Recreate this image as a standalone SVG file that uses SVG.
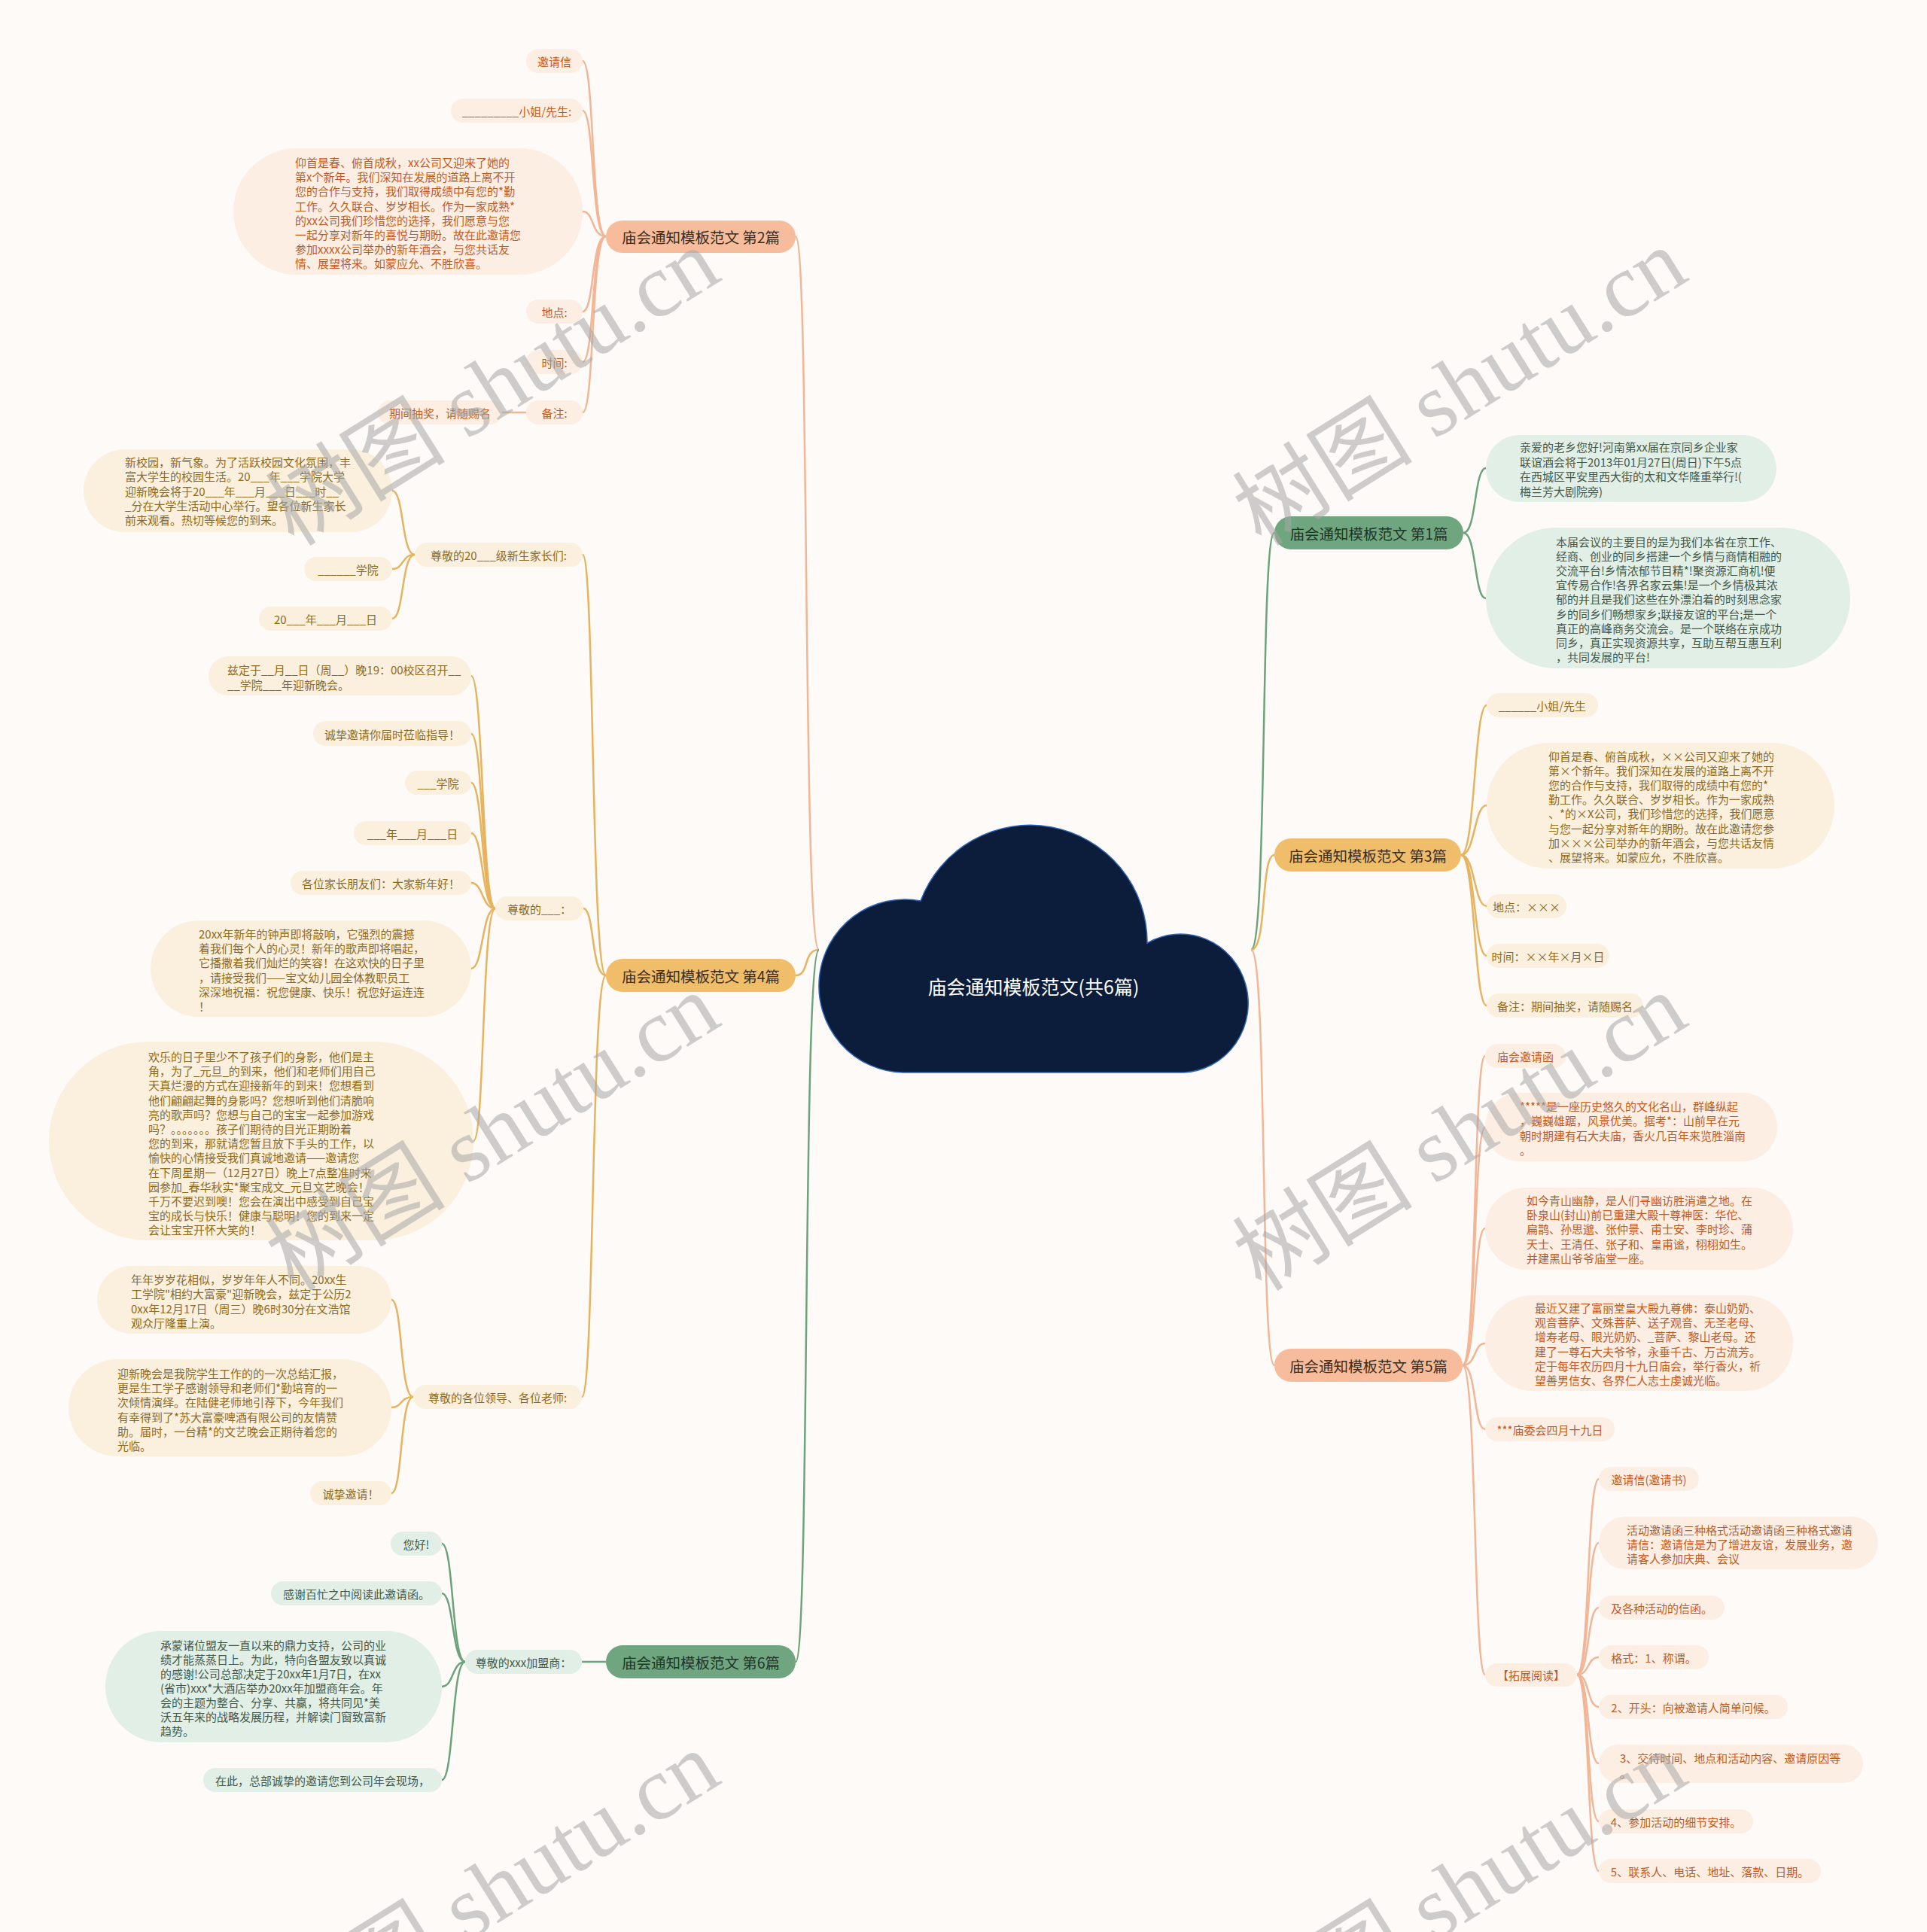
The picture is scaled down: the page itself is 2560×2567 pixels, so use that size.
<svg xmlns="http://www.w3.org/2000/svg" width="2560" height="2567" viewBox="0 0 2560 2567">
<style>
text{font-family:"Noto Sans CJK SC","Noto Sans",sans-serif;}
.t{font-size:15px;dominant-baseline:central}
.c{text-anchor:middle}
.m{font-size:19.5px;fill:#3b2c20;text-anchor:middle;dominant-baseline:central}
.mg{fill:#1f3527}
.ls{fill:#FDEEE3}
.lg{fill:#FBF0DD}
.lgr{fill:#E1EFE6}
.ts{fill:#BE5B25}
.tg{fill:#8C6A24}
.tgr{fill:#44584A}
.ns{fill:#F7BC9C}
.ng{fill:#F0BE6A}
.ngr{fill:#6FA67F}
.cs{stroke:#F2B595;fill:none;stroke-width:2.5}
.cg{stroke:#E6B35E;fill:none;stroke-width:2.5}
.cgr{stroke:#6CA37B;fill:none;stroke-width:2.5}
.wm{font-family:"Liberation Serif","Noto Sans CJK SC",serif;font-size:120px;fill:#a8a8a8;opacity:0.55;text-anchor:middle}
</style>
<rect width="2560" height="2567" fill="#FDFAF7"/>

<g id="connectors">
<path class="cs" d="M1088,1262 C1066,1262 1076,314 1057,314"/>
<path class="cg" d="M1088,1262 C1066,1262 1076,1296 1057,1296"/>
<path class="cgr" d="M1088,1262 C1066,1262 1076,2208 1057,2208"/>
<path class="cgr" d="M1662,1262 C1684,1262 1674,708 1693,708"/>
<path class="cg" d="M1662,1262 C1684,1262 1674,1136 1693,1136"/>
<path class="cs" d="M1662,1262 C1684,1262 1674,1814 1693,1814"/>
<path class="cs" d="M805,314 C785,314 790,81 774,81"/>
<path class="cs" d="M805,314 C785,314 790,147 774,147"/>
<path class="cs" d="M805,314 C785,314 790,281 774,281"/>
<path class="cs" d="M805,314 C785,314 790,414 774,414"/>
<path class="cs" d="M805,314 C785,314 790,481 774,481"/>
<path class="cs" d="M805,314 C785,314 790,548 774,548"/>
<path class="cs" d="M699,548 L667,548"/>
<path class="cg" d="M805,1296 C785,1296 790,737 774,737"/>
<path class="cg" d="M805,1296 C785,1296 790,1207 775,1207"/>
<path class="cg" d="M805,1296 C785,1296 790,1856 773,1856"/>
<path class="cg" d="M551,737 C533,737 537,652 521,652"/>
<path class="cg" d="M551,737 C533,737 537,756 521,756"/>
<path class="cg" d="M551,737 C533,737 537,822 521,822"/>
<path class="cg" d="M658,1207 C640,1207 642,898 626,898"/>
<path class="cg" d="M658,1207 C640,1207 642,975 626,975"/>
<path class="cg" d="M658,1207 C640,1207 642,1040 626,1040"/>
<path class="cg" d="M658,1207 C640,1207 642,1107 626,1107"/>
<path class="cg" d="M658,1207 C640,1207 642,1173 626,1173"/>
<path class="cg" d="M658,1207 C640,1207 642,1287 626,1287"/>
<path class="cg" d="M658,1207 C640,1207 644,1516 629,1516"/>
<path class="cg" d="M549,1856 C531,1856 535,1727 520,1727"/>
<path class="cg" d="M549,1856 C531,1856 535,1870 520,1870"/>
<path class="cg" d="M549,1856 C531,1856 535,1984 520,1984"/>
<path class="cgr" d="M805,2208 L773,2208"/>
<path class="cgr" d="M618,2208 C600,2208 603,2051 587,2051"/>
<path class="cgr" d="M618,2208 C600,2208 603,2117 587,2117"/>
<path class="cgr" d="M618,2208 C600,2208 603,2241 587,2241"/>
<path class="cgr" d="M618,2208 C600,2208 603,2365 587,2365"/>
<path class="cgr" d="M1944,708 C1962,708 1958,622 1974,622"/>
<path class="cgr" d="M1944,708 C1962,708 1958,795 1974,795"/>
<path class="cg" d="M1941,1136 C1960,1136 1958,937 1975,937"/>
<path class="cg" d="M1941,1136 C1960,1136 1958,1070 1975,1070"/>
<path class="cg" d="M1941,1136 C1960,1136 1958,1204 1975,1204"/>
<path class="cg" d="M1941,1136 C1960,1136 1958,1270 1975,1270"/>
<path class="cg" d="M1941,1136 C1960,1136 1958,1336 1975,1336"/>
<path class="cs" d="M1943,1814 C1962,1814 1957,1403 1973,1403"/>
<path class="cs" d="M1943,1814 C1962,1814 1957,1498 1973,1498"/>
<path class="cs" d="M1943,1814 C1962,1814 1957,1632 1973,1632"/>
<path class="cs" d="M1943,1814 C1962,1814 1957,1785 1973,1785"/>
<path class="cs" d="M1943,1814 C1962,1814 1957,1899 1973,1899"/>
<path class="cs" d="M1943,1814 C1962,1814 1957,2225 1973,2225"/>
<path class="cs" d="M2095,2225 C2112,2225 2108,1965 2124,1965"/>
<path class="cs" d="M2095,2225 C2112,2225 2108,2050 2124,2050"/>
<path class="cs" d="M2095,2225 C2112,2225 2108,2136 2124,2136"/>
<path class="cs" d="M2095,2225 C2112,2225 2108,2202 2124,2202"/>
<path class="cs" d="M2095,2225 C2112,2225 2108,2268 2124,2268"/>
<path class="cs" d="M2095,2225 C2112,2225 2108,2343 2124,2343"/>
<path class="cs" d="M2095,2225 C2112,2225 2108,2420 2124,2420"/>
<path class="cs" d="M2095,2225 C2112,2225 2108,2486 2124,2486"/>
</g>

<g id="root">
<path d="M1200,1425 A114,115 0 1 1 1223,1197 A155.5,155.5 0 0 1 1524,1253 A90,92 0 1 1 1573,1425 Z" fill="#0B1D3A" stroke="#2F63B5" stroke-width="1.5"/>
<text x="1373" y="1310" style="font-size:25px;fill:#ffffff;text-anchor:middle;dominant-baseline:central">庙会通知模板范文(共6篇)</text>
</g>

<g id="n2">
<rect class="ns" x="805" y="293" width="252" height="43" rx="21.5"/>
<text class="m" x="931" y="314.5">庙会通知模板范文 第2篇</text>
</g>
<g id="n2-1"><rect class="ls" x="699" y="65" width="75" height="32" rx="16"/><text class="t ts c" x="736.5" y="81">邀请信</text></g>
<g id="n2-2"><rect class="ls" x="599" y="131" width="175" height="32" rx="16"/><text class="t ts c" x="686.5" y="147">_________小姐/先生:</text></g>
<g id="n2-3"><rect class="ls" x="310" y="197" width="464" height="168" rx="84"/>
<text class="t ts"><tspan x="392" y="215">仰首是春、俯首成秋，xx公司又迎来了她的</tspan><tspan x="392" y="234.2">第x个新年。我们深知在发展的道路上离不开</tspan><tspan x="392" y="253.4">您的合作与支持，我们取得成绩中有您的*勤</tspan><tspan x="392" y="272.6">工作。久久联合、岁岁相长。作为一家成熟*</tspan><tspan x="392" y="291.8">的xx公司我们珍惜您的选择，我们愿意与您</tspan><tspan x="392" y="311">一起分享对新年的喜悦与期盼。故在此邀请您</tspan><tspan x="392" y="330.2">参加xxxx公司举办的新年酒会，与您共话友</tspan><tspan x="392" y="349.4">情、展望将来。如蒙应允、不胜欣喜。</tspan></text></g>
<g id="n2-4"><rect class="ls" x="699" y="398" width="75" height="32" rx="16"/><text class="t ts c" x="736.5" y="414">地点:</text></g>
<g id="n2-5"><rect class="ls" x="699" y="465" width="75" height="32" rx="16"/><text class="t ts c" x="736.5" y="481">时间:</text></g>
<g id="n2-6"><rect class="ls" x="699" y="532" width="75" height="32" rx="16"/><text class="t ts c" x="736.5" y="548">备注:</text></g>
<g id="n2-6-1"><rect class="ls" x="502" y="532" width="165" height="32" rx="16"/><text class="t ts c" x="584.5" y="548">期间抽奖，请随赐名</text></g>

<g id="n4">
<rect class="ng" x="805" y="1274" width="252" height="44" rx="22"/>
<text class="m" x="931" y="1296">庙会通知模板范文 第4篇</text>
</g>
<g id="n4-1"><rect class="lg" x="551" y="721" width="223" height="32" rx="16"/><text class="t tg c" x="662.5" y="737">尊敬的20___级新生家长们:</text></g>
<g id="n4-1-1"><rect class="lg" x="111" y="597" width="410" height="110" rx="55"/>
<text class="t tg"><tspan x="166" y="613">新校园，新气象。为了活跃校园文化氛围，丰</tspan><tspan x="166" y="632.3">富大学生的校园生活。20___年___学院大学</tspan><tspan x="166" y="651.6">迎新晚会将于20___年___月___日___时__</tspan><tspan x="166" y="670.9">_分在大学生活动中心举行。望各位新生家长</tspan><tspan x="166" y="690.2">前来观看。热切等候您的到来。</tspan></text></g>
<g id="n4-1-2"><rect class="lg" x="404" y="740" width="117" height="32" rx="16"/><text class="t tg c" x="462.5" y="756">______学院</text></g>
<g id="n4-1-3"><rect class="lg" x="344" y="806" width="177" height="32" rx="16"/><text class="t tg c" x="432.5" y="822">20___年___月___日</text></g>

<g id="n4-2"><rect class="lg" x="658" y="1191" width="117" height="32" rx="16"/><text class="t tg c" x="716.5" y="1207">尊敬的___：</text></g>
<g id="n4-2-1"><rect class="lg" x="277" y="872" width="349" height="52" rx="26"/>
<text class="t tg"><tspan x="302" y="889">兹定于__月__日（周__）晚19：00校区召开__</tspan><tspan x="302" y="908.5">__学院___年迎新晚会。</tspan></text></g>
<g id="n4-2-2"><rect class="lg" x="416" y="958" width="210" height="33" rx="16.5"/><text class="t tg c" x="521" y="975">诚挚邀请你届时莅临指导！</text></g>
<g id="n4-2-3"><rect class="lg" x="538" y="1024" width="88" height="32" rx="16"/><text class="t tg c" x="582" y="1040">___学院</text></g>
<g id="n4-2-4"><rect class="lg" x="470" y="1091" width="156" height="32" rx="16"/><text class="t tg c" x="548" y="1107">___年___月___日</text></g>
<g id="n4-2-5"><rect class="lg" x="386" y="1157" width="240" height="32" rx="16"/><text class="t tg c" x="506" y="1173">各位家长朋友们：大家新年好！</text></g>
<g id="n4-2-6"><rect class="lg" x="200" y="1223" width="426" height="128" rx="64"/>
<text class="t tg"><tspan x="264" y="1240">20xx年新年的钟声即将敲响，它强烈的震撼</tspan><tspan x="264" y="1259.2">着我们每个人的心灵！新年的歌声即将唱起，</tspan><tspan x="264" y="1278.4">它播撒着我们灿烂的笑容！在这欢快的日子里</tspan><tspan x="264" y="1297.6">，请接受我们——宝文幼儿园全体教职员工</tspan><tspan x="264" y="1316.8">深深地祝福：祝您健康、快乐！祝您好运连连</tspan><tspan x="264" y="1336">！</tspan></text></g>
<g id="n4-2-7"><rect class="lg" x="65" y="1384" width="564" height="264" rx="132"/>
<text class="t tg"><tspan x="197" y="1403">欢乐的日子里少不了孩子们的身影，他们是主</tspan><tspan x="197" y="1422.2">角，为了_元旦_的到来，他们和老师们用自己</tspan><tspan x="197" y="1441.4">天真烂漫的方式在迎接新年的到来！您想看到</tspan><tspan x="197" y="1460.6">他们翩翩起舞的身影吗？您想听到他们清脆响</tspan><tspan x="197" y="1479.8">亮的歌声吗？您想与自己的宝宝一起参加游戏</tspan><tspan x="197" y="1499">吗？。。。。。。。孩子们期待的目光正期盼着</tspan><tspan x="197" y="1518.2">您的到来，那就请您暂且放下手头的工作，以</tspan><tspan x="197" y="1537.4">愉快的心情接受我们真诚地邀请——邀请您</tspan><tspan x="197" y="1556.6">在下周星期一（12月27日）晚上7点整准时来</tspan><tspan x="197" y="1575.8">园参加_春华秋实*聚宝成文_元旦文艺晚会！</tspan><tspan x="197" y="1595">千万不要迟到噢！您会在演出中感受到自己宝</tspan><tspan x="197" y="1614.2">宝的成长与快乐！健康与聪明！您的到来一定</tspan><tspan x="197" y="1633.4">会让宝宝开怀大笑的！</tspan></text></g>

<g id="n4-3"><rect class="lg" x="549" y="1840" width="224" height="32" rx="16"/><text class="t tg c" x="661" y="1856">尊敬的各位领导、各位老师:</text></g>
<g id="n4-3-1"><rect class="lg" x="129" y="1682" width="391" height="90" rx="45"/>
<text class="t tg"><tspan x="174" y="1699">年年岁岁花相似，岁岁年年人不同。20xx生</tspan><tspan x="174" y="1718.3">工学院"相约大富豪"迎新晚会，兹定于公历2</tspan><tspan x="174" y="1737.6">0xx年12月17日（周三）晚6时30分在文浩馆</tspan><tspan x="174" y="1756.9">观众厅隆重上演。</tspan></text></g>
<g id="n4-3-2"><rect class="lg" x="91" y="1806" width="429" height="129" rx="64.5"/>
<text class="t tg"><tspan x="156" y="1824">迎新晚会是我院学生工作的的一次总结汇报，</tspan><tspan x="156" y="1843.2">更是生工学子感谢领导和老师们*勤培育的一</tspan><tspan x="156" y="1862.4">次倾情演绎。在陆健老师地引荐下，今年我们</tspan><tspan x="156" y="1881.6">有幸得到了*苏大富豪啤酒有限公司的友情赞</tspan><tspan x="156" y="1900.8">助。届时，一台精*的文艺晚会正期待着您的</tspan><tspan x="156" y="1920">光临。</tspan></text></g>
<g id="n4-3-3"><rect class="lg" x="412" y="1968" width="108" height="32" rx="16"/><text class="t tg c" x="466" y="1984">诚挚邀请！</text></g>

<g id="n6">
<rect class="ngr" x="805" y="2186" width="252" height="44" rx="22"/>
<text class="m mg" x="931" y="2208">庙会通知模板范文 第6篇</text>
</g>
<g id="n6-1"><rect class="lgr" x="618" y="2192" width="155" height="32" rx="16"/><text class="t tgr c" x="695.5" y="2208">尊敬的xxx加盟商：</text></g>
<g id="n6-1-1"><rect class="lgr" x="519" y="2035" width="68" height="32" rx="16"/><text class="t tgr c" x="553" y="2051">您好!</text></g>
<g id="n6-1-2"><rect class="lgr" x="360" y="2101" width="227" height="32" rx="16"/><text class="t tgr c" x="473.5" y="2117">感谢百忙之中阅读此邀请函。</text></g>
<g id="n6-1-3"><rect class="lgr" x="140" y="2167" width="447" height="148" rx="74"/>
<text class="t tgr"><tspan x="213" y="2185">承蒙诸位盟友一直以来的鼎力支持，公司的业</tspan><tspan x="213" y="2204">绩才能蒸蒸日上。为此，特向各盟友致以真诚</tspan><tspan x="213" y="2223">的感谢!公司总部决定于20xx年1月7日，在xx</tspan><tspan x="213" y="2242">(省市)xxx*大酒店举办20xx年加盟商年会。年</tspan><tspan x="213" y="2261">会的主题为整合、分享、共赢，将共同见*美</tspan><tspan x="213" y="2280">沃五年来的战略发展历程，并解读门窗致富新</tspan><tspan x="213" y="2299">趋势。</tspan></text></g>
<g id="n6-1-4"><rect class="lgr" x="270" y="2349" width="317" height="32" rx="16"/><text class="t tgr c" x="428.5" y="2365">在此，总部诚挚的邀请您到公司年会现场，</text></g>

<g id="n1">
<rect class="ngr" x="1693" y="686" width="251" height="44" rx="22"/>
<text class="m mg" x="1818.5" y="708">庙会通知模板范文 第1篇</text>
</g>
<g id="n1-1"><rect class="lgr" x="1974" y="578" width="386" height="89" rx="44.5"/>
<text class="t tgr"><tspan x="2019" y="593">亲爱的老乡您好!河南第xx届在京同乡企业家</tspan><tspan x="2019" y="612.5">联谊酒会将于2013年01月27日(周日)下午5点</tspan><tspan x="2019" y="632">在西城区平安里西大街的太和文华隆重举行!(</tspan><tspan x="2019" y="651.5">梅兰芳大剧院旁)</tspan></text></g>
<g id="n1-2"><rect class="lgr" x="1974" y="701" width="484" height="187" rx="93.5"/>
<text class="t tgr"><tspan x="2067" y="719">本届会议的主要目的是为我们本省在京工作、</tspan><tspan x="2067" y="738.1">经商、创业的同乡搭建一个乡情与商情相融的</tspan><tspan x="2067" y="757.2">交流平台!乡情浓郁节目精*!聚资源汇商机!便</tspan><tspan x="2067" y="776.3">宜传易合作!各界名家云集!是一个乡情极其浓</tspan><tspan x="2067" y="795.4">郁的并且是我们这些在外漂泊着的时刻思念家</tspan><tspan x="2067" y="814.5">乡的同乡们畅想家乡;联接友谊的平台;是一个</tspan><tspan x="2067" y="833.6">真正的高峰商务交流会。是一个联络在京成功</tspan><tspan x="2067" y="852.7">同乡，真正实现资源共享，互助互帮互惠互利</tspan><tspan x="2067" y="871.8">，共同发展的平台!</tspan></text></g>

<g id="n3">
<rect class="ng" x="1693" y="1114" width="248" height="44" rx="22"/>
<text class="m" x="1817" y="1136">庙会通知模板范文 第3篇</text>
</g>
<g id="n3-1"><rect class="lg" x="1975" y="921" width="148" height="32" rx="16"/><text class="t tg c" x="2049" y="937">______小姐/先生</text></g>
<g id="n3-2"><rect class="lg" x="1975" y="987" width="462" height="167" rx="83.5"/>
<text class="t tg"><tspan x="2057" y="1004">仰首是春、俯首成秋，××公司又迎来了她的</tspan><tspan x="2057" y="1023.1">第×个新年。我们深知在发展的道路上离不开</tspan><tspan x="2057" y="1042.2">您的合作与支持，我们取得的成绩中有您的*</tspan><tspan x="2057" y="1061.3">勤工作。久久联合、岁岁相长。作为一家成熟</tspan><tspan x="2057" y="1080.4">、*的×X公司，我们珍惜您的选择，我们愿意</tspan><tspan x="2057" y="1099.5">与您一起分享对新年的期盼。故在此邀请您参</tspan><tspan x="2057" y="1118.6">加×××公司举办的新年酒会，与您共话友情</tspan><tspan x="2057" y="1137.7">、展望将来。如蒙应允，不胜欣喜。</tspan></text></g>
<g id="n3-3"><rect class="lg" x="1975" y="1188" width="106" height="32" rx="16"/><text class="t tg c" x="2028" y="1204">地点：×××</text></g>
<g id="n3-4"><rect class="lg" x="1975" y="1254" width="163" height="32" rx="16"/><text class="t tg c" x="2056.5" y="1270">时间：××年×月×日</text></g>
<g id="n3-5"><rect class="lg" x="1975" y="1320" width="208" height="32" rx="16"/><text class="t tg c" x="2079" y="1336">备注：期间抽奖，请随赐名</text></g>

<g id="n5">
<rect class="ns" x="1693" y="1792" width="250" height="44" rx="22"/>
<text class="m" x="1818" y="1814">庙会通知模板范文 第5篇</text>
</g>
<g id="n5-1"><rect class="ls" x="1973" y="1387" width="107" height="32" rx="16"/><text class="t ts c" x="2026.5" y="1403">庙会邀请函</text></g>
<g id="n5-2"><rect class="ls" x="1973" y="1452" width="388" height="91" rx="45.5"/>
<text class="t ts"><tspan x="2019" y="1469">*****是一座历史悠久的文化名山，群峰纵起</tspan><tspan x="2019" y="1488.3">，巍巍雄踞，风景优美。据考*：山前早在元</tspan><tspan x="2019" y="1507.6">朝时期建有石大夫庙，香火几百年来览胜淄南</tspan><tspan x="2019" y="1526.9">。</tspan></text></g>
<g id="n5-3"><rect class="ls" x="1973" y="1578" width="409" height="109" rx="54.5"/>
<text class="t ts"><tspan x="2028" y="1594">如今青山幽静，是人们寻幽访胜消遣之地。在</tspan><tspan x="2028" y="1613.2">卧泉山(封山)前已重建大殿十尊神医：华佗、</tspan><tspan x="2028" y="1632.4">扁鹊、孙思邈、张仲景、甫士安、李时珍、蒲</tspan><tspan x="2028" y="1651.6">天士、王清任、张子和、皇甫谧，栩栩如生。</tspan><tspan x="2028" y="1670.8">并建黑山爷爷庙堂一座。</tspan></text></g>
<g id="n5-4"><rect class="ls" x="1973" y="1721" width="409" height="127" rx="63.5"/>
<text class="t ts"><tspan x="2039" y="1737">最近又建了富丽堂皇大殿九尊佛：泰山奶奶、</tspan><tspan x="2039" y="1756.2">观音菩萨、文殊菩萨、送子观音、无圣老母、</tspan><tspan x="2039" y="1775.4">增寿老母、眼光奶奶、_菩萨、黎山老母。还</tspan><tspan x="2039" y="1794.6">建了一尊石大夫爷爷，永垂千古、万古流芳。</tspan><tspan x="2039" y="1813.8">定于每年农历四月十九日庙会，举行香火，祈</tspan><tspan x="2039" y="1833">望善男信女、各界仁人志士虔诚光临。</tspan></text></g>
<g id="n5-5"><rect class="ls" x="1973" y="1883" width="172" height="32" rx="16"/><text class="t ts c" x="2059" y="1899">***庙委会四月十九日</text></g>
<g id="n5-6"><rect class="ls" x="1973" y="2210" width="122" height="31" rx="15.5"/><text class="t ts c" x="2034" y="2225.5">【拓展阅读】</text></g>
<g id="n5-6-1"><rect class="ls" x="2124" y="1949" width="133" height="32" rx="16"/><text class="t ts c" x="2190.5" y="1965">邀请信(邀请书)</text></g>
<g id="n5-6-2"><rect class="ls" x="2124" y="2015" width="371" height="70" rx="35"/>
<text class="t ts"><tspan x="2161" y="2032">活动邀请函三种格式活动邀请函三种格式邀请</tspan><tspan x="2161" y="2051">请信：邀请信是为了增进友谊，发展业务，邀</tspan><tspan x="2161" y="2070">请客人参加庆典、会议</tspan></text></g>
<g id="n5-6-3"><rect class="ls" x="2124" y="2120" width="167" height="32" rx="16"/><text class="t ts c" x="2207.5" y="2136">及各种活动的信函。</text></g>
<g id="n5-6-4"><rect class="ls" x="2124" y="2186" width="146" height="32" rx="16"/><text class="t ts c" x="2197" y="2202">格式：1、称谓。</text></g>
<g id="n5-6-5"><rect class="ls" x="2124" y="2252" width="251" height="32" rx="16"/><text class="t ts c" x="2249.5" y="2268">2、开头：向被邀请人简单问候。</text></g>
<g id="n5-6-6"><rect class="ls" x="2124" y="2318" width="351" height="51" rx="25.5"/>
<text class="t ts"><tspan x="2152" y="2335">3、交待时间、地点和活动内容、邀请原因等</tspan><tspan x="2152" y="2355">。</tspan></text></g>
<g id="n5-6-7"><rect class="ls" x="2124" y="2404" width="205" height="32" rx="16"/><text class="t ts c" x="2226.5" y="2420">4、参加活动的细节安排。</text></g>
<g id="n5-6-8"><rect class="ls" x="2124" y="2470" width="295" height="32" rx="16"/><text class="t ts c" x="2271.5" y="2486">5、联系人、电话、地址、落款、日期。</text></g>

<g id="watermarks">
<text class="wm" transform="translate(655,515) rotate(-32)" y="40">树图 shutu.cn</text>
<text class="wm" transform="translate(1940,515) rotate(-32)" y="40">树图 shutu.cn</text>
<text class="wm" transform="translate(655,1505) rotate(-32)" y="40">树图 shutu.cn</text>
<text class="wm" transform="translate(1940,1505) rotate(-32)" y="40">树图 shutu.cn</text>
<text class="wm" transform="translate(655,2512) rotate(-32)" y="40">树图 shutu.cn</text>
<text class="wm" transform="translate(1940,2512) rotate(-32)" y="40">树图 shutu.cn</text>
</g>
</svg>
